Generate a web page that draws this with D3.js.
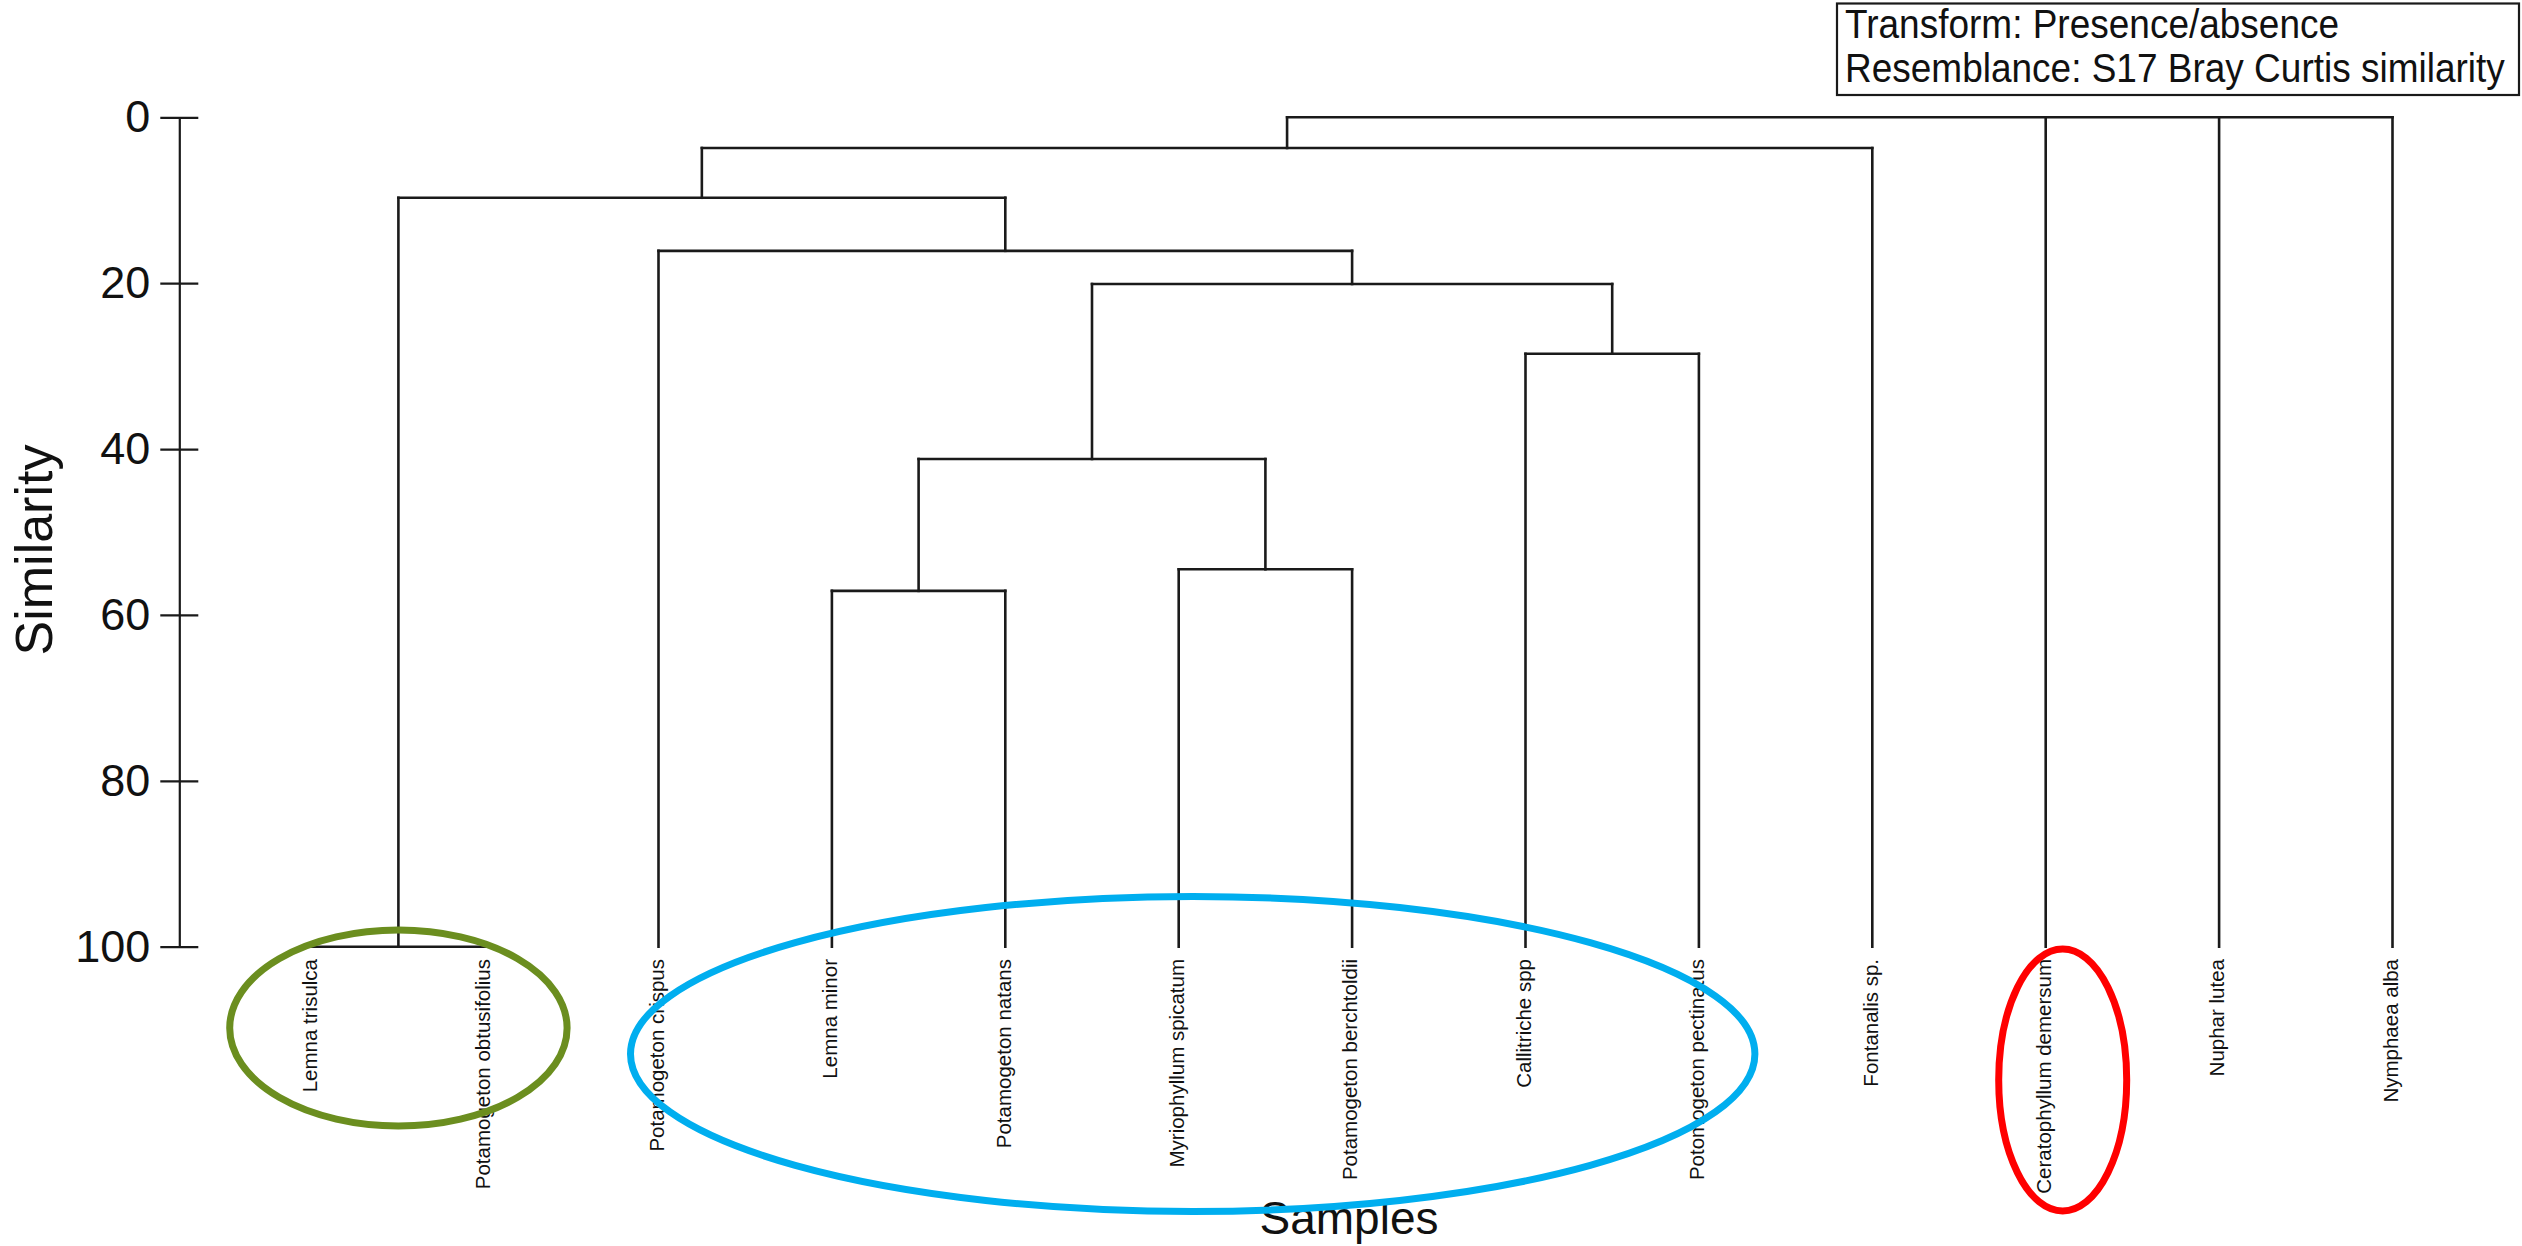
<!DOCTYPE html>
<html>
<head>
<meta charset="utf-8">
<script src="https://cdn.jsdelivr.net/npm/d3@7"></script>
<style>
  html, body { margin: 0; padding: 0; background: #ffffff; }
  svg { display: block; }
  text { font-family: "Liberation Sans", Arial, Helvetica, sans-serif; fill: #111; }
</style>
</head>
<body>
<svg id="chart" width="2522" height="1246"></svg>
<script>
// Samples (leaves), left to right
const leaves = [
  "Lemna trisulca",
  "Potamogeton obtusifolius",
  "Potamogeton crispus",
  "Lemna minor",
  "Potamogeton natans",
  "Myriophyllum spicatum",
  "Potamogeton berchtoldii",
  "Callitriche spp",
  "Potomogeton pectinatus",
  "Fontanalis sp.",
  "Ceratophyllum demersum",
  "Nuphar lutea",
  "Nymphaea alba"
];

// Cluster nodes: id, children (leaf names or node ids), similarity at which they join
const nodeIds = ["n1", "n2", "n3", "n4", "n5", "n6", "n7", "n8", "n9", "root"];
const nodeChildren = [
  ["Lemna trisulca", "Potamogeton obtusifolius"],
  ["Lemna minor", "Potamogeton natans"],
  ["Myriophyllum spicatum", "Potamogeton berchtoldii"],
  ["n2", "n3"],
  ["Callitriche spp", "Potomogeton pectinatus"],
  ["n4", "n5"],
  ["Potamogeton crispus", "n6"],
  ["n1", "n7"],
  ["n8", "Fontanalis sp."],
  ["n9", "Ceratophyllum demersum", "Nuphar lutea", "Nymphaea alba"]
];
const nodeSimilarity = [100, 57.1, 54.5, 41.2, 28.5, 20.1, 16.1, 9.7, 3.7, 0];

// Similarity axis ticks
const yTicks = [0, 20, 40, 60, 80, 100];

// Info box lines
const infoLines = ["Transform: Presence/absence", "Resemblance: S17 Bray Curtis similarity"];

// Highlighted sample groups
const groupMembers = [
  ["Lemna trisulca", "Potamogeton obtusifolius"],
  ["Potamogeton crispus", "Potomogeton pectinatus"],
  ["Ceratophyllum demersum", "Ceratophyllum demersum"]
];
const groupColors = ["#6b8e1f", "#00aeef", "#ff0000"];

const svg = d3.select("#chart");

const x = d3.scalePoint().domain(leaves).range([311.7, 2392.5]);
const y = d3.scaleLinear().domain([0, 100]).range([117.3, 946.7]);

// Build hierarchy from the node table
const nodeIndex = new Map(nodeIds.map((id, i) => [id, i]));
function makeNode(name) {
  if (nodeIndex.has(name)) {
    const i = nodeIndex.get(name);
    return { name, sim: nodeSimilarity[i], children: nodeChildren[i].map(makeNode) };
  }
  return { name, sim: 100 };
}
const root = d3.hierarchy(makeNode("root"));
root.eachAfter(d => {
  if (!d.children) d.px = x(d.data.name);
  else {
    const xs = d.children.map(c => c.px);
    d.px = (d3.min(xs) + d3.max(xs)) / 2;
  }
});

const tree = svg.append("g")
  .attr("fill", "none")
  .attr("stroke", "#1a1a1a")
  .attr("stroke-width", 2.6)
  .attr("stroke-linecap", "square");

// Horizontal joins
root.descendants().filter(d => d.children).forEach(d => {
  const xs = d.children.map(c => c.px);
  tree.append("line")
    .attr("x1", d3.min(xs)).attr("x2", d3.max(xs))
    .attr("y1", y(d.data.sim)).attr("y2", y(d.data.sim));
});
// Vertical stems
root.descendants().filter(d => d.parent).forEach(d => {
  tree.append("line")
    .attr("x1", d.px).attr("x2", d.px)
    .attr("y1", y(d.data.sim)).attr("y2", y(d.parent.data.sim));
});

// Y axis
const axisG = svg.append("g")
  .attr("transform", "translate(179.3,0)")
  .call(d3.axisLeft(y).tickValues(yTicks).tickSize(19).tickSizeOuter(0).tickPadding(10));
axisG.select(".domain").attr("stroke", "#1a1a1a").attr("stroke-width", 2.2);
axisG.selectAll(".tick line").attr("x1", 19).attr("stroke", "#1a1a1a").attr("stroke-width", 2.2);
axisG.selectAll(".tick text")
  .style("font-family", "'Liberation Sans', Arial, sans-serif")
  .style("font-size", "45px")
  .attr("fill", "#111");

svg.append("text")
  .attr("transform", "translate(34,550) rotate(-90)")
  .attr("text-anchor", "middle")
  .attr("dy", "0.35em")
  .style("font-size", "52px")
  .text("Similarity");

// Sample labels
svg.append("g").selectAll("text")
  .data(leaves)
  .join("text")
  .attr("transform", d => `translate(${x(d) - 2},959) rotate(-90)`)
  .attr("text-anchor", "end")
  .attr("dy", "0.36em")
  .style("font-size", "20.5px")
  .text(d => d);

svg.append("text")
  .attr("x", 1349).attr("y", 1234)
  .attr("text-anchor", "middle")
  .style("font-size", "46px")
  .text("Samples");

// Info box (slightly condensed lettering)
svg.append("rect")
  .attr("x", 1837).attr("y", 3.5)
  .attr("width", 682).attr("height", 91.5)
  .attr("fill", "#fff").attr("stroke", "#1a1a1a").attr("stroke-width", 2.2);
svg.append("g").selectAll("text")
  .data(infoLines)
  .join("text")
  .attr("transform", (d, i) => `translate(1845,${38 + i * 43.5}) scale(0.925,1)`)
  .style("font-size", "40px")
  .text(d => d);

// Group outlines
const groupShape = [
  { padX: 82, dx: 0, cy: 1028, ry: 98 },
  { padX: 42, dx: 14, cy: 1054, ry: 157.5 },
  { padX: 64, dx: 17, cy: 1080, ry: 131 }
];
svg.append("g").selectAll("ellipse")
  .data(groupMembers)
  .join("ellipse")
  .attr("cx", (d, i) => (x(d[0]) + x(d[1])) / 2 + groupShape[i].dx)
  .attr("cy", (d, i) => groupShape[i].cy)
  .attr("rx", (d, i) => (x(d[1]) - x(d[0])) / 2 + groupShape[i].padX)
  .attr("ry", (d, i) => groupShape[i].ry)
  .attr("fill", "none")
  .attr("stroke", (d, i) => groupColors[i])
  .attr("stroke-width", 7);
</script>
</body>
</html>
